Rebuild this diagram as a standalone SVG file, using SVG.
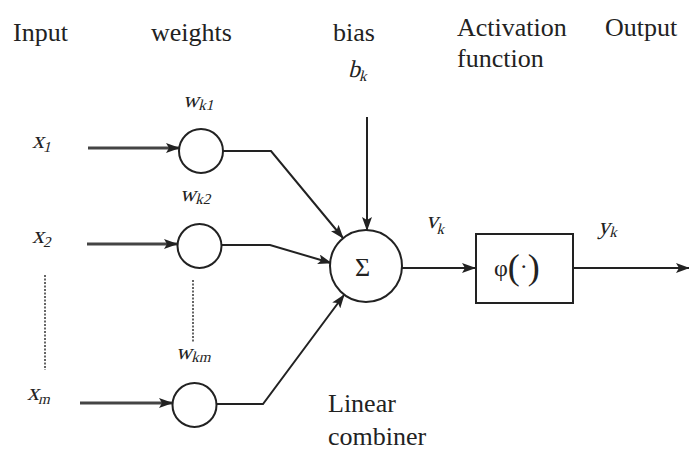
<svg xmlns="http://www.w3.org/2000/svg" width="689" height="450" viewBox="0 0 689 450">
<style>
text{font-family:"Liberation Serif","Times New Roman",serif;fill:#222}
.h{font-size:26px}
.m{font-size:24px}
.s{font-size:15px}
.ln{fill:none;stroke:#222;stroke-width:2}
.in{fill:none;stroke:#444;stroke-width:3}
.nd{fill:#fff;stroke:#222;stroke-width:2}
.dot{stroke:#333;stroke-width:1.5;stroke-dasharray:2,1.5}
</style>
<defs>
<marker id="ah" markerUnits="userSpaceOnUse" markerWidth="14" markerHeight="10" refX="13" refY="5" orient="auto">
<path d="M0,0 L14,5 L0,10 L3,5 z" fill="#222"/>
</marker>
</defs>
<rect width="689" height="450" fill="#fff"/>
<g id="headers">
<text class="h" x="13" y="41">Input</text>
<text class="h" x="151" y="41">weights</text>
<text class="h" x="333" y="41">bias</text>
<text class="h" x="457" y="36">Activation</text>
<text class="h" x="457" y="67">function</text>
<text class="h" x="605" y="36">Output</text>
</g>
<g id="labels">
<text class="m" transform="translate(348,77) skewX(-14)">b<tspan class="s" dy="4">k</tspan></text>
<text class="m" transform="translate(32,148) skewX(-14)">x<tspan class="s" dy="4">1</tspan></text>
<text class="m" transform="translate(32,243) skewX(-14)">x<tspan class="s" dy="4">2</tspan></text>
<text class="m" transform="translate(27,400) skewX(-14)">x<tspan class="s" dy="4">m</tspan></text>
<text class="m" transform="translate(183,107) skewX(-14)" style="font-size:22px">w<tspan class="s" dy="3">k1</tspan></text>
<text class="m" transform="translate(180,201) skewX(-14)" style="font-size:22px">w<tspan class="s" dy="3">k2</tspan></text>
<text class="m" transform="translate(176,359) skewX(-14)" style="font-size:22px">w<tspan class="s" dy="3">km</tspan></text>
<text class="m" transform="translate(426,228) skewX(-14)">v<tspan class="s" dy="6">k</tspan></text>
<text class="m" transform="translate(598,234) skewX(-14)">y<tspan class="s" dy="3">k</tspan></text>
<text class="h" x="328" y="412">Linear</text>
<text class="h" x="328" y="445">combiner</text>
</g>
<g id="dots">
<line class="dot" x1="45" y1="275" x2="45" y2="370"/>
<line class="dot" x1="193" y1="280" x2="193" y2="343"/>
</g>
<g id="connectors">
<line class="in" x1="88" y1="148" x2="179" y2="148" marker-end="url(#ah)"/>
<line class="in" x1="87" y1="244" x2="177" y2="244" marker-end="url(#ah)"/>
<line class="in" x1="80" y1="403" x2="172" y2="403" marker-end="url(#ah)"/>
<polyline class="ln" points="223,151 271,151 343,238" marker-end="url(#ah)"/>
<polyline class="ln" points="222,245 270,245 331,263" marker-end="url(#ah)"/>
<polyline class="ln" points="217,404 263,404 344,295" marker-end="url(#ah)"/>
<line class="ln" x1="367" y1="117" x2="367" y2="230" marker-end="url(#ah)"/>
<line class="ln" x1="402" y1="268" x2="475" y2="268" marker-end="url(#ah)"/>
<line class="ln" x1="573" y1="268" x2="689" y2="268" marker-end="url(#ah)"/>
</g>
<g id="w1"><circle class="nd" cx="201" cy="151" r="22"/></g>
<g id="w2"><circle class="nd" cx="199.5" cy="246" r="22"/></g>
<g id="wm"><circle class="nd" cx="194.5" cy="405" r="22"/></g>
<g id="sum"><circle class="nd" cx="366" cy="266" r="36"/><text x="355" y="276" style="font-size:26px">Σ</text></g>
<g id="act"><rect class="nd" x="476" y="234" width="97" height="69"/><text x="494" y="276" style="font-size:24px">φ<tspan style="font-size:36px" dy="3">(</tspan><tspan dy="-5">·</tspan><tspan style="font-size:36px" dy="5">)</tspan></text></g>
</svg>
